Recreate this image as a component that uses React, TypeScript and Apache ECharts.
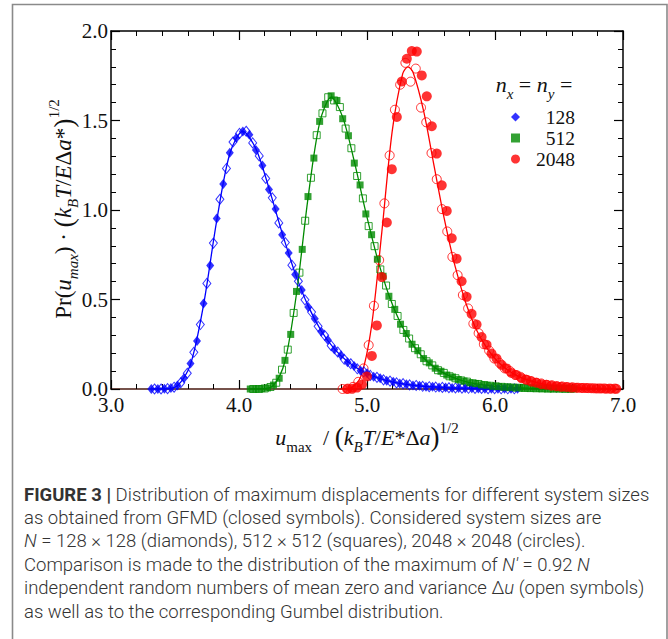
import React, { useEffect, useRef } from "react";
import * as echarts from "echarts";

// ---------- data ----------
const blueClosed: number[][] = [
  [3.315,0.000],[3.366,0.000],[3.417,0.002],[3.468,0.005],[3.519,0.020],[3.570,0.060],[3.621,0.143],[3.672,0.268],[3.723,0.478],[3.775,0.690],[3.826,0.952],[3.877,1.145],[3.928,1.320],[3.979,1.402],[4.030,1.438],[4.081,1.420],[4.132,1.335],[4.183,1.248],[4.234,1.115],[4.286,1.005],[4.337,0.862],[4.388,0.760],[4.439,0.640],[4.490,0.553],[4.541,0.458],[4.592,0.392],[4.643,0.320],[4.694,0.274],[4.745,0.220],[4.797,0.188],[4.848,0.150],[4.899,0.128],[4.950,0.102],[5.001,0.088],[5.052,0.068],[5.103,0.060],[5.154,0.046],[5.205,0.040],[5.256,0.031],[5.308,0.027],[5.359,0.020],[5.410,0.018],[5.461,0.013],[5.512,0.012],[5.563,0.009],[5.614,0.008],[5.665,0.006],[5.716,0.005],[5.767,0.004],[5.819,0.004],[5.870,0.003],[5.921,0.002],[5.972,0.002],[6.023,0.002],[6.074,0.001],[6.125,0.001],[6.176,0.001]
];
const blueOpen: number[][] = [
  [3.340,0.000],[3.391,0.000],[3.442,0.002],[3.493,0.010],[3.545,0.035],[3.596,0.088],[3.647,0.205],[3.698,0.360],[3.749,0.590],[3.800,0.815],[3.851,1.060],[3.902,1.232],[3.953,1.380],[4.004,1.428],[4.056,1.440],[4.107,1.375],[4.158,1.302],[4.209,1.176],[4.260,1.068],[4.311,0.928],[4.362,0.818],[4.413,0.692],[4.464,0.602],[4.515,0.498],[4.567,0.430],[4.618,0.350],[4.669,0.300],[4.720,0.242],[4.771,0.207],[4.822,0.166],[4.873,0.141],[4.924,0.113],[4.975,0.096],[5.026,0.076],[5.078,0.065],[5.129,0.051],[5.180,0.044],[5.231,0.034],[5.282,0.030],[5.333,0.023],[5.384,0.020],[5.435,0.015],[5.486,0.013],[5.537,0.011],[5.589,0.009],[5.640,0.007],[5.691,0.006],[5.742,0.005],[5.793,0.004],[5.844,0.003],[5.895,0.003],[5.946,0.002],[5.997,0.002],[6.048,0.001],[6.100,0.001],[6.151,0.001]
];
const blueGumbel: number[][] = [
  [3.315,0.000],[3.417,0.001],[3.519,0.018],[3.621,0.137],[3.723,0.470],[3.826,0.941],[3.928,1.314],[4.030,1.440],[4.132,1.342],[4.234,1.122],[4.337,0.872],[4.439,0.646],[4.541,0.463],[4.643,0.324],[4.745,0.224],[4.848,0.153],[4.950,0.104],[5.052,0.070],[5.154,0.047],[5.256,0.032],[5.359,0.021],[5.461,0.014],[5.563,0.010],[5.665,0.006],[5.819,0.004],[6.023,0.002],[6.200,0.001]
];

const greenClosed: number[][] = [
  [4.088,0.000],[4.133,0.000],[4.178,0.002],[4.223,0.006],[4.269,0.022],[4.314,0.060],[4.359,0.160],[4.404,0.305],[4.449,0.545],[4.494,0.780],[4.539,1.075],[4.585,1.290],[4.630,1.495],[4.675,1.590],[4.720,1.638],[4.765,1.612],[4.810,1.510],[4.855,1.415],[4.901,1.262],[4.946,1.140],[4.991,0.978],[5.036,0.862],[5.081,0.725],[5.126,0.630],[5.171,0.518],[5.217,0.445],[5.262,0.362],[5.307,0.310],[5.352,0.250],[5.397,0.214],[5.442,0.170],[5.487,0.146],[5.533,0.116],[5.578,0.099],[5.623,0.078],[5.668,0.067],[5.713,0.053],[5.758,0.045],[5.803,0.035],[5.849,0.031],[5.894,0.023],[5.939,0.021],[5.984,0.015],[6.029,0.014],[6.074,0.010],[6.119,0.009],[6.164,0.007],[6.210,0.006],[6.255,0.005],[6.300,0.004],[6.345,0.003],[6.390,0.003],[6.435,0.002],[6.480,0.002],[6.526,0.001],[6.571,0.001],[6.616,0.001]
];
const greenOpen: number[][] = [
  [4.111,0.000],[4.156,0.000],[4.201,0.003],[4.246,0.011],[4.291,0.035],[4.336,0.108],[4.381,0.220],[4.427,0.425],[4.472,0.650],[4.517,0.940],[4.562,1.180],[4.607,1.418],[4.652,1.540],[4.697,1.630],[4.743,1.612],[4.788,1.575],[4.833,1.455],[4.878,1.345],[4.923,1.190],[4.968,1.065],[5.013,0.910],[5.059,0.798],[5.104,0.668],[5.149,0.578],[5.194,0.475],[5.239,0.408],[5.284,0.330],[5.329,0.282],[5.375,0.228],[5.420,0.194],[5.465,0.155],[5.510,0.132],[5.555,0.105],[5.600,0.090],[5.645,0.071],[5.691,0.060],[5.736,0.048],[5.781,0.041],[5.826,0.032],[5.871,0.028],[5.916,0.022],[5.961,0.018],[6.006,0.015],[6.052,0.012],[6.097,0.010],[6.142,0.008],[6.187,0.007],[6.232,0.006],[6.277,0.005],[6.322,0.004],[6.368,0.003],[6.413,0.002],[6.458,0.002],[6.503,0.002],[6.548,0.001],[6.593,0.001]
];
const greenGumbel: number[][] = [
  [4.088,0.000],[4.178,0.001],[4.269,0.020],[4.359,0.155],[4.449,0.532],[4.539,1.065],[4.630,1.487],[4.720,1.630],[4.810,1.519],[4.901,1.270],[4.991,0.987],[5.081,0.731],[5.171,0.524],[5.262,0.367],[5.352,0.254],[5.442,0.173],[5.533,0.118],[5.623,0.080],[5.713,0.054],[5.803,0.036],[5.894,0.024],[5.984,0.016],[6.074,0.011],[6.164,0.007],[6.300,0.004],[6.480,0.002],[6.650,0.001]
];

const redClosed: number[][] = [
  [4.844,0.000],[4.883,0.001],[4.922,0.008],[4.961,0.025],[5.000,0.070],[5.038,0.185],[5.077,0.355],[5.116,0.625],[5.155,0.930],[5.194,1.228],[5.233,1.520],[5.272,1.718],[5.311,1.845],[5.350,1.888],[5.389,1.885],[5.428,1.752],[5.467,1.635],[5.506,1.468],[5.545,1.315],[5.584,1.138],[5.623,0.995],[5.662,0.842],[5.700,0.728],[5.739,0.602],[5.778,0.515],[5.817,0.420],[5.856,0.360],[5.895,0.290],[5.934,0.247],[5.973,0.198],[6.012,0.170],[6.051,0.135],[6.090,0.115],[6.129,0.090],[6.168,0.078],[6.207,0.061],[6.246,0.052],[6.285,0.041],[6.324,0.035],[6.362,0.027],[6.401,0.024],[6.440,0.018],[6.479,0.016],[6.518,0.012],[6.557,0.011],[6.596,0.008],[6.635,0.007],[6.674,0.006],[6.713,0.005],[6.752,0.004],[6.791,0.003],[6.830,0.003],[6.869,0.002],[6.908,0.002],[6.947,0.001]
];
const redOpen: number[][] = [
  [4.809,0.000],[4.850,0.002],[4.891,0.012],[4.932,0.040],[4.973,0.115],[5.013,0.245],[5.054,0.465],[5.095,0.720],[5.136,1.037],[5.177,1.305],[5.218,1.560],[5.259,1.700],[5.300,1.822],[5.340,1.717],[5.381,1.790],[5.422,1.572],[5.463,1.490],[5.504,1.318],[5.545,1.172],[5.586,1.005],[5.627,0.880],[5.667,0.738],[5.708,0.636],[5.749,0.525],[5.790,0.450],[5.831,0.365],[5.872,0.312],[5.913,0.250],[5.954,0.215],[5.995,0.170],[6.035,0.146],[6.076,0.115],[6.117,0.100],[6.158,0.078],[6.199,0.068],[6.240,0.052],[6.281,0.045],[6.322,0.035],[6.362,0.031],[6.403,0.023],[6.444,0.021],[6.485,0.015],[6.526,0.014],[6.567,0.010],[6.608,0.009],[6.649,0.007],[6.689,0.006],[6.730,0.005],[6.771,0.004],[6.812,0.003],[6.853,0.003],[6.894,0.002],[6.935,0.002]
];
const redGumbel: number[][] = [
  [4.789,0.000],[4.870,0.005],[4.952,0.070],[5.034,0.344],[5.116,0.878],[5.197,1.441],[5.279,1.762],[5.320,1.800],[5.361,1.767],[5.443,1.551],[5.524,1.246],[5.606,0.943],[5.688,0.686],[5.770,0.485],[5.851,0.337],[5.933,0.232],[6.015,0.158],[6.097,0.107],[6.178,0.072],[6.260,0.049],[6.342,0.033],[6.465,0.018],[6.587,0.010],[6.751,0.004],[6.955,0.002]
];

const sizeNames = ["128", "512", "2048"];
const captionLines = [
  "{b|FIGURE 3 |} Distribution of maximum displacements for different system sizes",
  "as obtained from GFMD (closed symbols). Considered system sizes are",
  "{i|N} = 128 × 128 (diamonds), 512 × 512 (squares), 2048 × 2048 (circles).",
  "Comparison is made to the distribution of the maximum of {i|N′} = 0.92 {i|N}",
  "independent random numbers of mean zero and variance Δ{i|u} (open symbols)",
  "as well as to the corresponding Gumbel distribution.",
];

const SERIF = '"Liberation Serif", "Times New Roman", "DejaVu Serif", serif';
const SANS = 'Roboto, "Liberation Sans", Arial, sans-serif';
const BLUE = "#0000ff";
const GREEN = "#008a00";
const RED = "#ff0000";
const CAP = 18.5;

function serifRich(size: number) {
  return {
    r: { fontFamily: SERIF, fontSize: size, lineHeight: 34, verticalAlign: "middle", fill: "#111" },
    i: { fontFamily: SERIF, fontSize: size, fontStyle: "italic", lineHeight: 34, verticalAlign: "middle", fill: "#111" },
    p: { fontFamily: SERIF, fontSize: size + 5, lineHeight: 34, verticalAlign: "middle", fill: "#111" },
    s: { fontFamily: SERIF, fontSize: 15, lineHeight: 15, verticalAlign: "bottom", fill: "#111" },
    si: { fontFamily: SERIF, fontSize: 15, fontStyle: "italic", lineHeight: 15, verticalAlign: "bottom", fill: "#111" },
    sup: { fontFamily: SERIF, fontSize: 15, lineHeight: 15, verticalAlign: "top", fill: "#111" },
  };
}

export default function App() {
  const ref = useRef<HTMLDivElement>(null);
  useEffect(() => {
    if (!ref.current) return;
    const chart = echarts.init(ref.current, undefined, { renderer: "svg" });

    const frameAxisX = (pos: "bottom" | "top", showLabel: boolean) => ({
      type: "value", min: 3, max: 7, interval: 1, position: pos,
      axisLine: { show: true, onZero: false, lineStyle: { color: pos === "bottom" ? "#4a1a10" : "#000", width: 1.5 } },
      axisTick: { show: true, inside: true, length: 9, lineStyle: { color: "#000", width: 1.2 } },
      minorTick: { show: true, splitNumber: 5, length: 5, lineStyle: { color: "#000", width: 1 } },
      axisLabel: { show: showLabel, margin: 5, formatter: (v: number) => v.toFixed(1), fontFamily: SERIF, fontSize: 21, color: "#111" },
      splitLine: { show: false }, minorSplitLine: { show: false },
    });
    const frameAxisY = (pos: "left" | "right", showLabel: boolean) => ({
      type: "value", min: 0, max: 2, interval: 0.5, position: pos,
      axisLine: { show: true, onZero: false, lineStyle: { color: "#000", width: 1.5 } },
      axisTick: { show: true, inside: true, length: 9, lineStyle: { color: "#000", width: 1.2 } },
      minorTick: { show: true, splitNumber: 5, length: 5, lineStyle: { color: "#000", width: 1 } },
      axisLabel: { show: showLabel, margin: 3, formatter: (v: number) => v.toFixed(1), fontFamily: SERIF, fontSize: 21, color: "#111" },
      splitLine: { show: false }, minorSplitLine: { show: false },
    });

    const lineSeries = (name: string, data: number[][], color: string) => ({
      name, type: "line", data, smooth: 0.3, showSymbol: false, symbol: "none",
      lineStyle: { color, width: 1.3 }, itemStyle: { color }, z: 2, silent: true,
    });
    const openSeries = (name: string, data: number[][], color: string, symbol: string, size: any) => ({
      name, type: "scatter", data, symbol, symbolSize: size,
      itemStyle: { color: "rgba(255,255,255,0)", borderColor: color, borderWidth: 1 }, z: 3,
    });
    const closedSeries = (name: string, data: number[][], color: string, symbol: string, size: any) => ({
      name, type: "scatter", data, symbol, symbolSize: size,
      itemStyle: { color, borderColor: color, borderWidth: 0 }, z: 4,
    });

    const captionGraphics = captionLines.map((t, k) => ({
      type: "text", left: 24, top: 485 + k * 23.4,
      style: {
        text: t, fontFamily: SANS, fontSize: CAP, fontWeight: 300, fill: "#333",
        rich: {
          b: { fontFamily: SANS, fontSize: CAP, fontWeight: "bold", fill: "#333" },
          i: { fontFamily: SANS, fontSize: CAP, fontStyle: "italic", fontWeight: 300, fill: "#333" },
        },
      },
    }));

    chart.setOption({
      animation: false,
      backgroundColor: "#ffffff",
      grid: { left: 111, top: 31, width: 512, height: 358, containLabel: false },
      xAxis: [frameAxisX("bottom", true), frameAxisX("top", false)],
      yAxis: [frameAxisY("left", true), frameAxisY("right", false)],
      legend: {
        data: [
          { name: sizeNames[0], icon: "diamond" },
          { name: sizeNames[1], icon: "rect" },
          { name: sizeNames[2], icon: "circle" },
        ],
        orient: "vertical", left: 506, top: 102, itemWidth: 9, itemHeight: 9, itemGap: 1,
        selectedMode: false,
        formatter: "{a|{name}}",
        textStyle: {
          fontFamily: SERIF, fontSize: 19.5, color: "#111",
          rich: { a: { fontFamily: SERIF, fontSize: 19.5, color: "#111", width: 50, align: "right", lineHeight: 19 } },
        },
      },
      series: [
        lineSeries("Gumbel 128", blueGumbel, BLUE),
        lineSeries("Gumbel 512", greenGumbel, GREEN),
        lineSeries("Gumbel 2048", redGumbel, RED),
        openSeries("random 128", blueOpen, BLUE, "diamond", [8, 10]),
        openSeries("random 512", greenOpen, GREEN, "rect", [7, 7]),
        openSeries("random 2048", redOpen, RED, "circle", 9),
        closedSeries(sizeNames[0], blueClosed, BLUE, "diamond", [8, 10]),
        closedSeries(sizeNames[1], greenClosed, GREEN, "rect", [7, 7]),
        closedSeries(sizeNames[2], redClosed, RED, "circle", 10),
      ],
      graphic: [
        {
          type: "rect", silent: true, z: -10,
          shape: { x: 12.5, y: 4.5, width: 654.5, height: 720 },
          style: { fill: "none", stroke: "#8a8a8a", lineWidth: 1.6 },
        },
        {
          type: "text", x: 63, y: 209, rotation: Math.PI / 2,
          style: {
            text: "{r|Pr(}{i|u}{si|max}{r|)}{r| · }{p|(}{i|k}{si|B}{i|T}{r|/}{i|E}{r|Δ}{i|a}{r|*}{p|)}{sup|1/2}",
            align: "center", verticalAlign: "middle", rich: serifRich(23),
          },
        },
        {
          type: "text", x: 367, y: 437,
          style: {
            text: "{i|u}{s|max}{r|  / }{p|(}{i|k}{si|B}{i|T}{r|/}{i|E}{r|*Δ}{i|a}{p|)}{sup|1/2}",
            align: "center", verticalAlign: "middle", rich: serifRich(22),
          },
        },
        {
          type: "text", x: 534, y: 84,
          style: {
            text: "{i|n}{si|x}{r| = }{i|n}{si|y}{r| =}",
            align: "center", verticalAlign: "middle", rich: serifRich(22),
          },
        },
        ...captionGraphics,
      ],
    });
    return () => chart.dispose();
  }, []);
  return <div ref={ref} style={{ position: "fixed", left: 0, top: 0, width: 668, height: 639, background: "#fff" }} />;
}
